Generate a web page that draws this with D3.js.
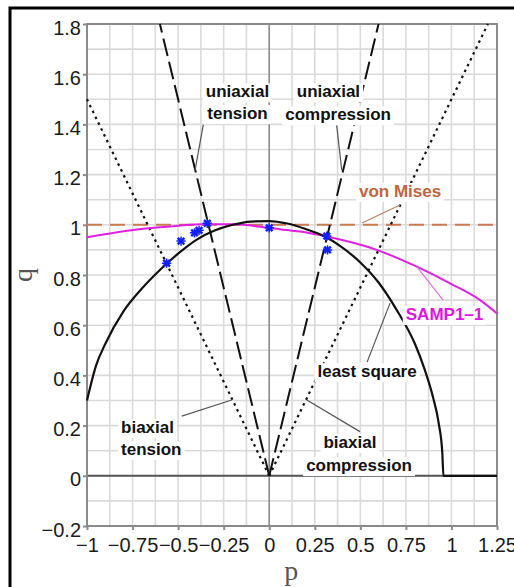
<!DOCTYPE html>
<html>
<head>
<meta charset="utf-8">
<script src="https://cdn.jsdelivr.net/npm/d3@7"></script>
<style>
  body { margin: 0; background: #fff; }
  svg { display: block; }
</style>
</head>
<body>
<div id="chart"></div>
<script>
// Tick values
var xTicks = [-1, -0.75, -0.5, -0.25, 0, 0.25, 0.5, 0.75, 1, 1.25];
var yTicks = [-0.2, 0, 0.2, 0.4, 0.6, 0.8, 1, 1.2, 1.4, 1.6, 1.8];

// Least square fit curve
var lsqP = [-1.0, -0.95, -0.9, -0.8, -0.7, -0.6, -0.5, -0.4, -0.3, -0.2, -0.1, 0, 0.1, 0.2, 0.3, 0.4, 0.5, 0.6, 0.7, 0.8, 0.85, 0.9, 0.93, 0.95, 0.956, 1.25];
var lsqQ = [0.30, 0.44, 0.525, 0.655, 0.745, 0.82, 0.885, 0.94, 0.977, 1.0, 1.013, 1.015, 1.005, 0.983, 0.955, 0.91, 0.85, 0.77, 0.66, 0.525, 0.43, 0.31, 0.21, 0.09, 0, 0];

// SAMP1-1 curve
var sampP = [-1.0, -0.927, -0.746, -0.563, -0.38, -0.197, 0, 0.096, 0.169, 0.316, 0.59, 0.81, 0.992, 1.157, 1.25];
var sampQ = [0.95, 0.959, 0.979, 0.992, 1.002, 1.002, 0.988, 0.979, 0.973, 0.953, 0.9, 0.833, 0.767, 0.7, 0.647];

// Test points
var testP = [-0.563, -0.484, -0.41, -0.385, -0.34, 0, 0.316, 0.32];
var testQ = [0.847, 0.935, 0.968, 0.978, 1.006, 0.988, 0.955, 0.9];

// Straight reference lines
var uniTensionP = [0, -0.6], uniTensionQ = [0, 1.8];
var uniCompP = [0, 0.6], uniCompQ = [0, 1.8];
var biTensionP = [0, -1], biTensionQ = [0, 1.5];
var biCompP = [0, 1.2], biCompQ = [0, 1.8];
var vonMisesP = [-1, 1.25], vonMisesQ = [1, 1];

// Annotation texts: [text, p, q, anchor, colour]
var labels = [
    ['uniaxial', -0.174, 1.508, 'middle', '#111'],
    ['tension', -0.174, 1.421, 'middle', '#111'],
    ['uniaxial', 0.325, 1.508, 'middle', '#111'],
    ['compression', 0.378, 1.416, 'middle', '#111'],
    ['von Mises', 0.718, 1.111, 'middle', '#c0643c'],
    ['SAMP1\u20131', 0.962, 0.621, 'middle', '#dd16dd'],
    ['least square', 0.537, 0.393, 'middle', '#111'],
    ['biaxial', -0.813, 0.171, 'start', '#111'],
    ['tension', -0.813, 0.083, 'start', '#111'],
    ['biaxial', 0.443, 0.111, 'middle', '#111'],
    ['compression', 0.493, 0.019, 'middle', '#111']
];

// Leader lines: [p1, q1, p2, q2, colour]
var leaders = [
    [-0.362, 1.398, -0.407, 1.218, '#555'],
    [0.370, 1.398, 0.398, 1.218, '#555'],
    [0.718, 1.079, 0.509, 1.007, '#c08060'],
    [0.954, 0.700, 0.811, 0.832, '#e070e0'],
    [0.663, 0.688, 0.537, 0.453, '#555'],
    [-0.480, 0.238, -0.206, 0.302, '#555'],
    [0.206, 0.302, 0.498, 0.176, '#555']
];

function zip(a, b) { return a.map(function(v, i) { return [v, b[i]]; }); }

var W = 514, H = 587;
var margin = {top: 24, right: 17, bottom: 61, left: 87};
var width = W - margin.left - margin.right,
    height = H - margin.top - margin.bottom;

var svg = d3.select('#chart').append('svg')
    .attr('width', W)
    .attr('height', H);

// Outer black frame
svg.append('rect')
    .attr('x', 10).attr('y', 8)
    .attr('width', 520).attr('height', 620)
    .attr('fill', 'none')
    .attr('stroke', '#000')
    .attr('stroke-width', 3);

var chart = svg.append('g')
    .attr('transform', 'translate(' + margin.left + ',' + margin.top + ')');

var x = d3.scaleLinear().domain([-1, 1.25]).range([0, width]);
var y = d3.scaleLinear().domain([-0.2, 1.8]).range([height, 0]);

// Grid
var gridX = d3.range(-1, 1.25 + 1e-9, 0.125);
var gridY = d3.range(-0.2, 1.8 + 1e-9, 0.1);
chart.append('g').selectAll('line').data(gridX).enter().append('line')
    .attr('x1', function(d) { return x(d); }).attr('x2', function(d) { return x(d); })
    .attr('y1', 0).attr('y2', height)
    .attr('stroke', '#dadada').attr('stroke-width', 1.6);
chart.append('g').selectAll('line').data(gridY).enter().append('line')
    .attr('y1', function(d) { return y(d); }).attr('y2', function(d) { return y(d); })
    .attr('x1', 0).attr('x2', width)
    .attr('stroke', '#dadada').attr('stroke-width', 1.6);

// Zero lines
chart.append('line')
    .attr('x1', x(0)).attr('x2', x(0)).attr('y1', 0).attr('y2', height)
    .attr('stroke', '#8a8a8a').attr('stroke-width', 1.5);
chart.append('line')
    .attr('x1', 0).attr('x2', width).attr('y1', y(0)).attr('y2', y(0))
    .attr('stroke', '#555').attr('stroke-width', 2);

// Frame
chart.append('rect')
    .attr('x', 0).attr('y', 0).attr('width', width).attr('height', height)
    .attr('fill', 'none').attr('stroke', '#8a8a8a').attr('stroke-width', 2);

// Axes
var fmt = d3.format('');
var xAxis = d3.axisBottom(x).tickValues(xTicks).tickFormat(fmt).tickSize(4).tickPadding(6);
var yAxis = d3.axisLeft(y).tickValues(yTicks).tickFormat(fmt).tickSize(4).tickPadding(2);

var gx = chart.append('g').attr('transform', 'translate(0,' + height + ')').call(xAxis);
var gy = chart.append('g').call(yAxis);
[gx, gy].forEach(function(g) {
    g.select('.domain').remove();
    g.selectAll('line').attr('stroke', '#8a8a8a').attr('stroke-width', 2);
    g.selectAll('text')
        .attr('fill', '#1a1a1a')
        .style('font-family', '"Liberation Sans", Arial, sans-serif')
        .style('font-size', '20px');
});
gy.selectAll('text').attr('dy', '0.5em');
gx.selectAll('text').attr('dy', '0.82em');

// Axis titles
svg.append('text')
    .attr('x', margin.left + x(0) + 22).attr('y', 580)
    .attr('text-anchor', 'middle')
    .style('font-family', '"Liberation Serif", "DejaVu Serif", serif')
    .style('font-size', '28px')
    .attr('fill', '#555')
    .text('p');
svg.append('text')
    .attr('transform', 'translate(32,' + (margin.top + y(0.8)) + ') rotate(-90)')
    .attr('text-anchor', 'middle')
    .style('font-family', '"Liberation Serif", "DejaVu Serif", serif')
    .style('font-size', '28px')
    .attr('fill', '#555')
    .text('q');

var line = d3.line()
    .x(function(d) { return x(d[0]); })
    .y(function(d) { return y(d[1]); });

function addLine(P, Q, colour, dash, w) {
    chart.append('path')
        .attr('d', line(zip(P, Q)))
        .attr('fill', 'none')
        .attr('stroke', colour)
        .attr('stroke-width', w || 2)
        .attr('stroke-dasharray', dash || null);
}

// Reference lines
addLine(vonMisesP, vonMisesQ, '#c87a50', '15,8', 2);
addLine(biTensionP, biTensionQ, '#111', '2.5,4', 2.2);
addLine(biCompP, biCompQ, '#111', '2.5,4', 2.2);
addLine(uniTensionP, uniTensionQ, '#111', '18,6', 2);
addLine(uniCompP, uniCompQ, '#111', '18,6', 2);

// Curves
var curve = d3.line()
    .curve(d3.curveMonotoneX)
    .x(function(d) { return x(d[0]); })
    .y(function(d) { return y(d[1]); });
chart.append('path')
    .attr('d', curve(zip(sampP, sampQ)))
    .attr('fill', 'none').attr('stroke', '#e020e0').attr('stroke-width', 2);
chart.append('path')
    .attr('d', curve(zip(lsqP, lsqQ)))
    .attr('fill', 'none').attr('stroke', '#111').attr('stroke-width', 2.2);

// Test points
chart.append('g').selectAll('path').data(zip(testP, testQ)).enter().append('path')
    .attr('transform', function(d) { return 'translate(' + x(d[0]) + ',' + y(d[1]) + ')'; })
    .attr('d', d3.symbol(d3.symbolTimes, 30))
    .attr('fill', 'none').attr('stroke', '#1020ff').attr('stroke-width', 2.5);
chart.append('g').selectAll('path').data(zip(testP, testQ)).enter().append('path')
    .attr('transform', function(d) { return 'translate(' + x(d[0]) + ',' + y(d[1]) + ')'; })
    .attr('d', d3.symbol(d3.symbolPlus, 30))
    .attr('fill', 'none').attr('stroke', '#1020ff').attr('stroke-width', 1.5);

// Leader lines
chart.append('g').selectAll('line').data(leaders).enter().append('line')
    .attr('x1', function(d) { return x(d[0]); }).attr('y1', function(d) { return y(d[1]); })
    .attr('x2', function(d) { return x(d[2]); }).attr('y2', function(d) { return y(d[3]); })
    .attr('stroke', function(d) { return d[4]; })
    .attr('stroke-width', 1.2);

// Labels with white boxes
var lab = chart.append('g').selectAll('g').data(labels).enter().append('g');
lab.append('rect').attr('fill', '#fff');
lab.append('text')
    .attr('x', function(d) { return x(d[1]); })
    .attr('y', function(d) { return y(d[2]); })
    .attr('text-anchor', function(d) { return d[3]; })
    .attr('fill', function(d) { return d[4]; })
    .style('font-family', '"Liberation Sans", Arial, sans-serif')
    .style('font-weight', 'bold')
    .style('font-size', '17px')
    .text(function(d) { return d[0]; });
lab.each(function() {
    var g = d3.select(this);
    var b = g.select('text').node().getBBox();
    g.select('rect')
        .attr('x', b.x - 3).attr('y', b.y + 1)
        .attr('width', b.width + 6).attr('height', b.height);
});
</script>
</body>
</html>
